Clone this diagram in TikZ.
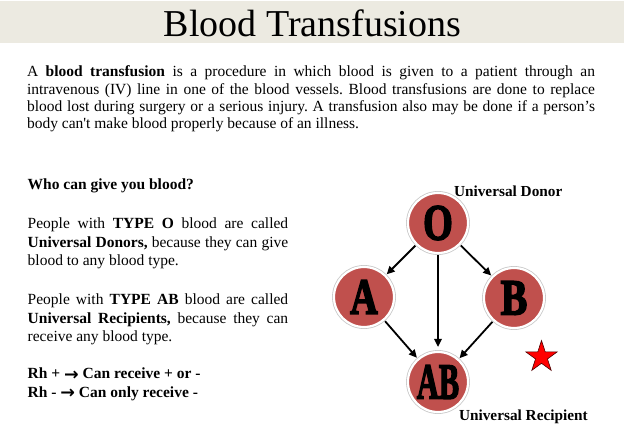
\documentclass[tikz,border=0pt]{standalone}
\usepackage{fontspec}
\usepackage{graphicx}
\setmainfont{Liberation Serif}
\newfontfamily\arrowfont{DejaVu Sans}
\newfontfamily\circfont[BoldFeatures={FakeBold=3.5}]{Liberation Serif}
\usetikzlibrary{arrows.meta,shapes.geometric}
\definecolor{bandgray}{HTML}{ECEAE1}
\definecolor{bloodred}{HTML}{C0504D}
\definecolor{ringgray}{HTML}{C8C8C8}
\frenchspacing
\tikzset{
  bloodtype/.style={circle, fill=bloodred, draw=white, line width=2.2bp,
    preaction={draw=ringgray, line width=3.8bp},
    minimum size=60bp, inner sep=0pt,
    font=\circfont\bfseries\fontsize{38bp}{38bp}\selectfont},
  flow/.style={-{Triangle[length=8bp,width=7.5bp]}, line width=1.8bp,
    shorten <=1bp, shorten >=1bp},
  bodytext/.style={anchor=base west, inner sep=0pt, outer sep=0pt,
    font=\fontsize{15.5bp}{18bp}\selectfont},
  labeltext/.style={anchor=base west, inner sep=0pt, outer sep=0pt,
    font=\bfseries\fontsize{15.3bp}{18bp}\selectfont},
}
\newcommand{\rharrow}{\raisebox{-1.5bp}{\arrowfont\bfseries\fontsize{17.5bp}{18bp}\selectfont →}}
\begin{document}
\begin{tikzpicture}[x=1bp, y=-1bp]
\useasboundingbox (0,0) rectangle (624,436);
\fill[white] (0,0) rectangle (624,436);
% title band
\fill[bandgray] (0,1.5) rectangle (624,43);
\node[anchor=base, inner sep=0pt, font=\fontsize{38bp}{40bp}\selectfont] (title) at (312.5,36.7) {Blood Transfusions};

% intro paragraph
\node[bodytext] (p1) at (27,77) {\makebox[568bp][s]{A \textbf{blood transfusion} is a procedure in which blood is given to a patient through an}};
\node[bodytext] (p2) at (27,94.3) {\makebox[568bp][s]{intravenous (IV) line in one of the blood vessels. Blood transfusions are done to replace}};
\node[bodytext] (p3) at (27,111.7) {\makebox[568bp][s]{blood lost during surgery or a serious injury. A transfusion also may be done if a person’s}};
\node[bodytext] (p4) at (27,129) {body can\textquotesingle t make blood properly because of an illness.};

% left column
\node[bodytext] (q) at (27.7,190) {\textbf{Who can give you blood?}};
\node[bodytext] (d1) at (27.7,229) {\makebox[260.5bp][s]{People with \textbf{TYPE O} blood are called}};
\node[bodytext] (d2) at (27.7,247.5) {\makebox[260.5bp][s]{\textbf{Universal Donors,} because they can give}};
\node[bodytext] (d3) at (27.7,266) {blood to any blood type.};
\node[bodytext] (r1) at (27.7,304.5) {\makebox[260.5bp][s]{People with \textbf{TYPE AB} blood are called}};
\node[bodytext] (r2) at (27.7,323) {\makebox[260.5bp][s]{\textbf{Universal Recipients,} because they can}};
\node[bodytext] (r3) at (27.7,341.5) {receive any blood type.};
\node[bodytext] (rh1) at (27.7,378.5) {\textbf{Rh + \rharrow{} Can receive + or -}};
\node[bodytext] (rh2) at (27.7,397) {\textbf{Rh - \rharrow{} Can only receive -}};

% diagram
\node[bloodtype] (O) at (438,223) {\scalebox{1}[1.33]{O}};
\node[bloodtype] (A) at (364,297) {\scalebox{1}[1.33]{A}};
\node[bloodtype] (B) at (514,298) {\scalebox{1.05}[1.33]{B}};
\node[bloodtype] (AB) at (438,382) {\scalebox{0.8}[1.33]{AB}};

\draw[flow] (O) -- (A);
\draw[flow] (O) -- (B);
\draw[flow, shorten >=4bp] (O) -- (AB);
\draw[flow] (A) -- (AB);
\draw[flow] (B) -- (AB);

\node[labeltext] (donor) at (454,196.7) {Universal Donor};
\node[labeltext] (recip) at (459,420) {Universal Recipient};

\node[star, star points=5, star point ratio=2.618, minimum size=33bp, inner sep=0pt,
  fill=red, draw=black!70!red, line width=0.6bp] (star) at (541.5,357) {};
\end{tikzpicture}
\end{document}
